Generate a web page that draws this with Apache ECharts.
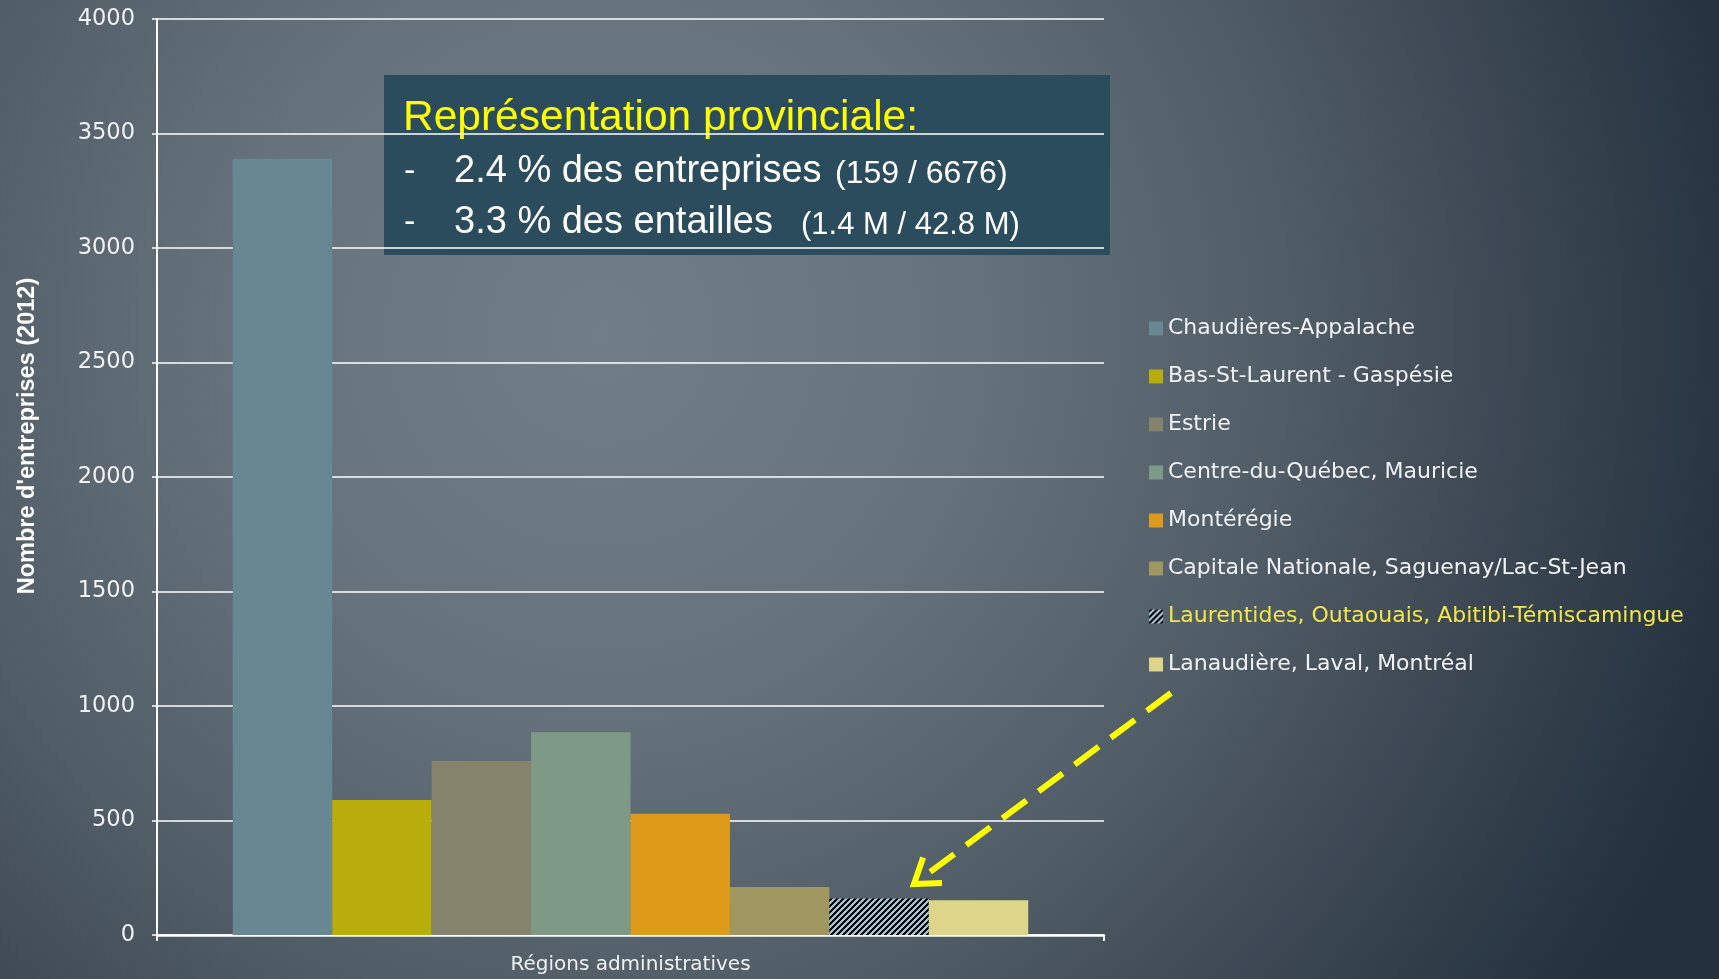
<!DOCTYPE html>
<html><head><meta charset="utf-8">
<script src="https://cdn.jsdelivr.net/npm/echarts@6/dist/echarts.min.js"></script>
<style>html,body{margin:0;padding:0;background:#3a4550}#c{width:1719px;height:979px}</style>
</head><body><div id="c"></div>
<script>
const categories = ['Régions administratives'];
const regions = ['Chaudières-Appalache','Bas-St-Laurent - Gaspésie','Estrie','Centre-du-Québec, Mauricie','Montérégie','Capitale Nationale, Saguenay/Lac-St-Jean','Laurentides, Outaouais, Abitibi-Témiscamingue','Lanaudière, Laval, Montréal'];
const values = [3390, 590, 760, 885, 530, 210, 159, 152];
const yTicks = {min: 0, max: 4000, interval: 500};
const colors = ['#678893','#b8ad0a','#85836b','#7e9a86','#e09a1a','#a09660','HATCH','#ddd58a'];

function hatch(){
  const n = 6;
  const c = document.createElement('canvas'); c.width = n; c.height = n;
  const ctx = c.getContext('2d');
  for (let x=0;x<n;x++) for (let y=0;y<n;y++){
    ctx.fillStyle = ((x+y)%n) < 3 ? '#0a0a0a' : '#a3c4d2';
    ctx.fillRect(x,y,1,1);
  }
  return {image: c, repeat: 'repeat'};
}
const hatchPat = hatch();

const chart = echarts.init(document.getElementById('c'), null, {renderer:'canvas'});
const font = '"DejaVu Sans", sans-serif';
const boxFont = '"Liberation Sans", Arial, sans-serif';
const series = regions.map((r,i)=>({
  name: r, type: 'bar', data: [values[i]],
  barGap: '0%', barCategoryGap: '16%',
  itemStyle: {color: colors[i]==='HATCH' ? hatchPat : colors[i]},
  emphasis: {disabled: true}
}));

// arrow annotation geometry
const tip = [914, 884], start = [1171, 693];
const ang = Math.atan2(start[1]-tip[1], start[0]-tip[0]);
const armL = 28, spread = 0.6;
const a1 = [tip[0]+armL*Math.cos(ang-spread), tip[1]+armL*Math.sin(ang-spread)];
const a2 = [tip[0]+armL*Math.cos(ang+spread), tip[1]+armL*Math.sin(ang+spread)];

chart.setOption({
  animation: false,
  backgroundColor: {type:'radial', x:0.35, y:0.34, r:1.23, colorStops:[
    {offset:0, color:'#717e88'},{offset:0.3,color:'#66737d'},{offset:0.57,color:'#505c66'},
    {offset:0.74,color:'#3e4954'},{offset:0.94,color:'#273542'},{offset:1,color:'#22303d'}]},
  grid: {left:157, right:615, top:19, bottom:44},
  legend: {
    orient:'vertical', left:1144, top:311, itemWidth:14, itemHeight:14, itemGap:23,
    icon:'rect', selectedMode:false,
    textStyle:{color:'#f2f2f2', fontSize:22, fontFamily:font, lineHeight:25, height:25},
    data: regions.map((r,i)=> i===6 ? {name:r, textStyle:{color:'#f2e64b'}} : {name:r})
  },
  xAxis: {
    type:'category', data: categories,
    axisLine:{lineStyle:{color:'#ffffff', width:2.5}},
    axisTick:{show:true, length:6, lineStyle:{color:'#ffffff', width:2}},
    axisLabel:{color:'#f2f2f2', fontSize:20, fontFamily:font, margin:20}
  },
  yAxis: {
    type:'value', min:yTicks.min, max:yTicks.max, interval:yTicks.interval,
    axisLine:{show:true, lineStyle:{color:'#ffffff', width:2}},
    axisTick:{show:true, length:5, lineStyle:{color:'#ffffff', width:1.5}},
    splitLine:{lineStyle:{color:'#ffffff', width:1.5}},
    axisLabel:{color:'#f2f2f2', fontSize:22.5, fontFamily:font, margin:22, formatter: v => String(v)}
  },
  series: series,
  graphic: [
    {type:'text', x: 28, y: 436, rotation: Math.PI/2, style:{
      text:"Nombre d'entreprises (2012)", fill:'#ffffff', font:'bold 23.5px "Liberation Sans", sans-serif',
      align:'center', verticalAlign:'middle'}},
    {type:'group', children:[
      {type:'rect', shape:{x:384, y:75, width:726, height:180}, style:{fill:'#2b4c5d'}},
      {type:'text', x:403, y:118, style:{text:'Représentation provinciale:', fill:'#ffff00', font:'42.5px '+boxFont, verticalAlign:'middle'}},
      {type:'text', x:404, y:172, style:{text:'-', fill:'#ffffff', font:'34px '+boxFont, verticalAlign:'middle'}},
      {type:'text', x:454, y:172, style:{text:'2.4 % des entreprises', fill:'#ffffff', font:'38px '+boxFont, verticalAlign:'middle'}},
      {type:'text', x:835, y:174, style:{text:'(159 / 6676)', fill:'#ffffff', font:'32px '+boxFont, verticalAlign:'middle'}},
      {type:'text', x:404, y:223, style:{text:'-', fill:'#ffffff', font:'34px '+boxFont, verticalAlign:'middle'}},
      {type:'text', x:454, y:223, style:{text:'3.3 % des entailles', fill:'#ffffff', font:'38px '+boxFont, verticalAlign:'middle'}},
      {type:'text', x:801, y:225, style:{text:'(1.4 M / 42.8 M)', fill:'#ffffff', font:'31px '+boxFont, verticalAlign:'middle'}}
    ]},
    {type:'line', shape:{x1:start[0], y1:start[1], x2:tip[0]+8*Math.cos(ang), y2:tip[1]+8*Math.sin(ang)},
      style:{stroke:'#ffff00', lineWidth:6, lineDash:[30,15]}},
    {type:'polyline', shape:{points:[a1, tip, a2]}, style:{stroke:'#ffff00', lineWidth:6, fill:null, lineJoin:'miter'}}
  ]
});
</script></body></html>
